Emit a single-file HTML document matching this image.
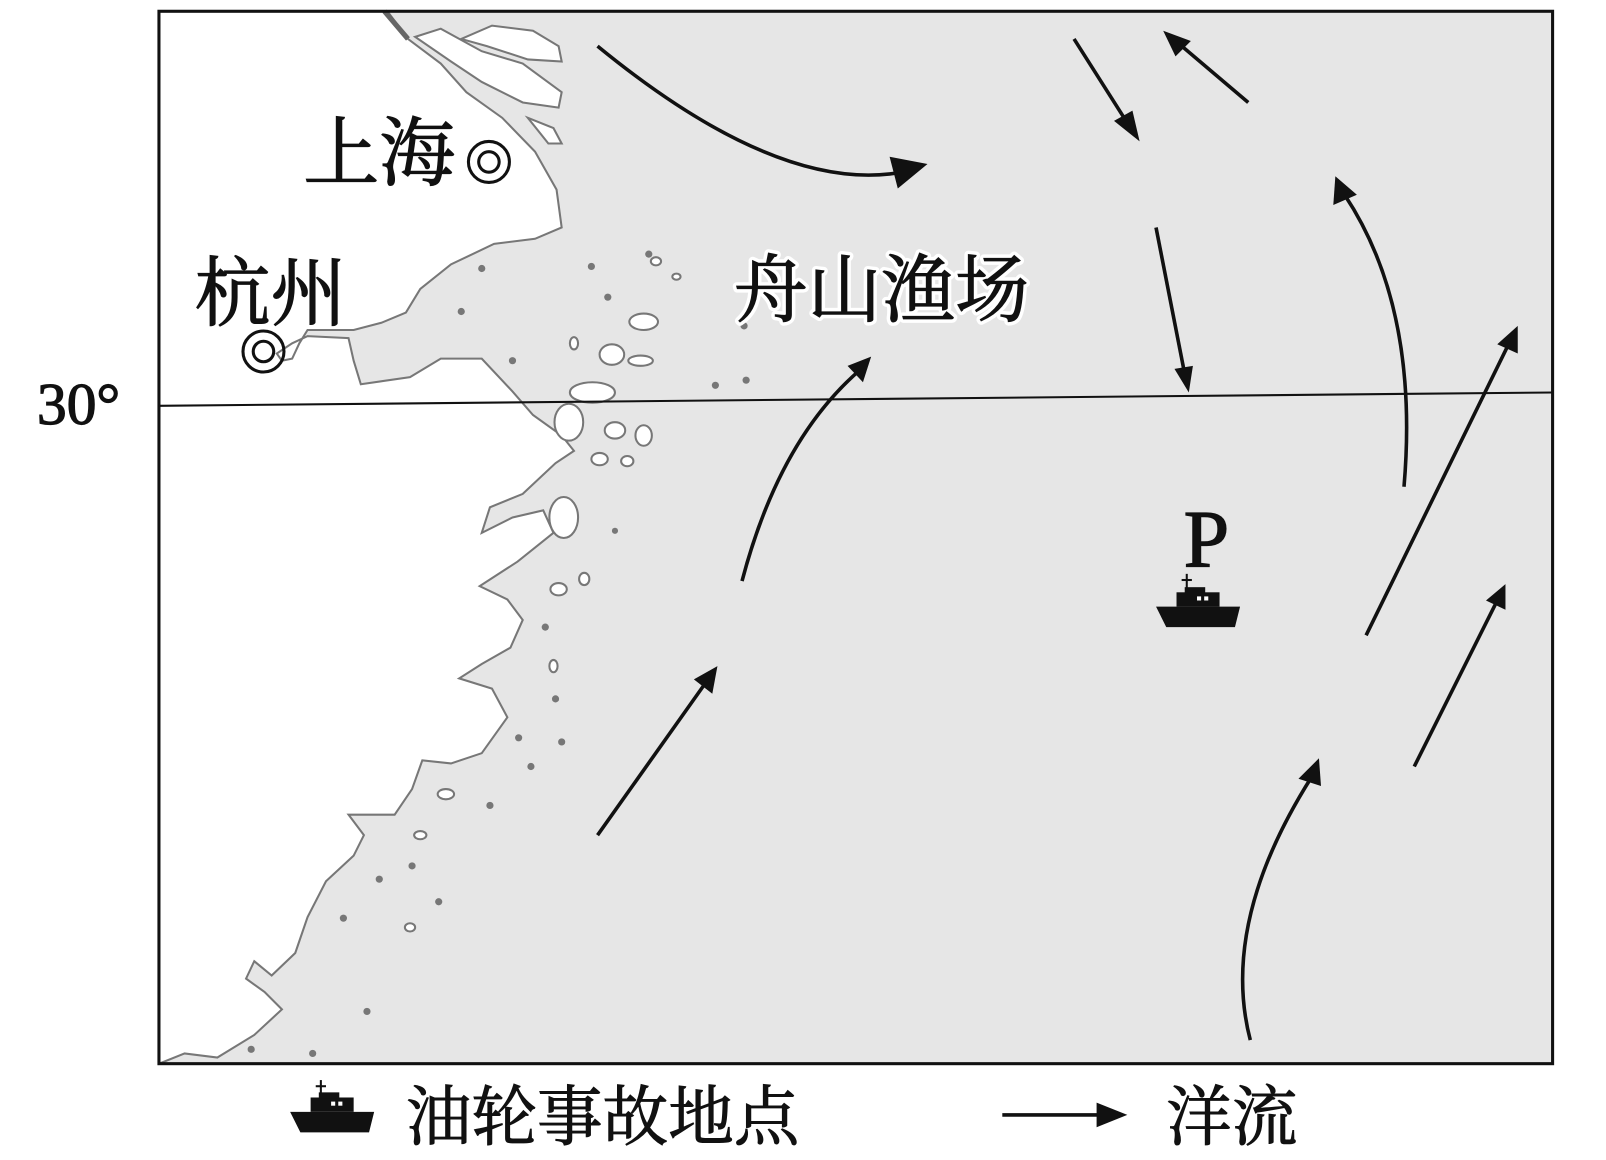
<!DOCTYPE html>
<html><head><meta charset="utf-8"><style>
html,body{margin:0;padding:0;background:#fff;}
svg{display:block;}
text{font-family:"Liberation Serif","Noto Serif CJK SC",serif;fill:#111;}
</style></head><body>
<svg width="1606" height="1160" viewBox="0 0 1567 1132" xmlns="http://www.w3.org/2000/svg">
<rect x="155" y="11" width="1360" height="1027" fill="#e6e6e6"/>
<path d="M155,11 L378,11 L398,38 L430,62 L455,90 L490,115 L522,148 L543,185 L548,222 L522,233 L482,238 L440,258 L410,282 L396,305 L372,315 L345,322 L300,322 L292,335 L285,350 L275,352 L270,345 L285,335 L300,328 L340,330 L345,352 L352,375 L400,368 L430,350 L470,350 L500,382 L520,405 L548,425 L560,440 L542,452 L510,482 L478,495 L470,520 L500,505 L530,498 L540,520 L505,548 L468,572 L495,585 L510,605 L498,632 L470,648 L448,662 L480,672 L495,700 L470,735 L440,745 L412,742 L402,770 L385,795 L340,795 L355,815 L345,835 L318,860 L300,895 L288,930 L265,952 L248,938 L240,955 L258,968 L275,985 L248,1010 L212,1032 L180,1028 L155,1038 Z" fill="#fff" stroke="#777" stroke-width="2"/>
<path d="M375,11 L398,38" stroke="#666" stroke-width="5" fill="none"/>
<path d="M405,36 L430,28 L470,50 L510,62 L548,90 L545,105 L510,100 L470,80 L440,60 Z" fill="#fff" stroke="#777" stroke-width="2"/>
<path d="M450,38 L480,25 L520,30 L545,45 L548,60 L515,58 L475,45 Z" fill="#fff" stroke="#777" stroke-width="2"/>
<path d="M515,115 L540,125 L548,140 L535,140 Z" fill="#fff" stroke="#777" stroke-width="2"/>
<g fill="#fff" stroke="#777" stroke-width="2">
<ellipse cx="628" cy="314" rx="14" ry="8"/>
<ellipse cx="597" cy="346" rx="12" ry="10"/>
<ellipse cx="625" cy="352" rx="12" ry="5"/>
<ellipse cx="578" cy="383" rx="22" ry="10"/>
<ellipse cx="555" cy="412" rx="14" ry="18"/>
<ellipse cx="600" cy="420" rx="10" ry="8"/>
<ellipse cx="628" cy="425" rx="8" ry="10"/>
<ellipse cx="585" cy="448" rx="8" ry="6"/>
<ellipse cx="612" cy="450" rx="6" ry="5"/>
<ellipse cx="550" cy="505" rx="14" ry="20"/>
<ellipse cx="545" cy="575" rx="8" ry="6"/>
<ellipse cx="570" cy="565" rx="5" ry="6"/>
<ellipse cx="540" cy="650" rx="4" ry="6"/>
<ellipse cx="435" cy="775" rx="8" ry="5"/>
<ellipse cx="410" cy="815" rx="6" ry="4"/>
<ellipse cx="400" cy="905" rx="5" ry="4"/>
<ellipse cx="560" cy="335" rx="4" ry="6"/>
<ellipse cx="660" cy="270" rx="4" ry="3"/>
<ellipse cx="640" cy="255" rx="5" ry="4"/>
</g>
<g fill="#777">
<circle cx="470" cy="262" r="3.5"/><circle cx="577" cy="260" r="3.5"/><circle cx="633" cy="248" r="3.5"/>
<circle cx="593" cy="290" r="3.5"/><circle cx="450" cy="304" r="3.5"/><circle cx="500" cy="352" r="3.5"/>
<circle cx="698" cy="376" r="3.5"/><circle cx="728" cy="371" r="3.5"/><circle cx="726" cy="318" r="3.5"/>
<circle cx="532" cy="612" r="3.5"/><circle cx="542" cy="682" r="3.5"/><circle cx="506" cy="720" r="3.5"/>
<circle cx="548" cy="724" r="3.5"/><circle cx="518" cy="748" r="3.5"/><circle cx="478" cy="786" r="3.5"/>
<circle cx="402" cy="845" r="3.5"/><circle cx="370" cy="858" r="3.5"/><circle cx="428" cy="880" r="3.5"/>
<circle cx="335" cy="896" r="3.5"/><circle cx="358" cy="987" r="3.5"/><circle cx="305" cy="1028" r="3.5"/>
<circle cx="245" cy="1024" r="3.5"/><circle cx="600" cy="518" r="3"/>
</g>
<rect x="155" y="11" width="1360" height="1027" fill="none" stroke="#111" stroke-width="3"/>
<line x1="155" y1="396" x2="1515" y2="383" stroke="#111" stroke-width="2"/>
<g stroke="#111" stroke-width="3.5" fill="none">
<path d="M583,45 Q760,190 880,168"/>
<path d="M1048,38 L1100,120"/>
<path d="M1218,100 L1152,44"/>
<path d="M1128,222 L1156,365"/>
<path d="M1370,475 Q1385,300 1312,190"/>
<path d="M1333,620 L1472,336"/>
<path d="M1380,748 L1460,588"/>
<path d="M1220,1015 Q1190,900 1280,758"/>
<path d="M583,815 L688,667"/>
<path d="M724,567 Q760,430 838,362"/>
</g>
<g fill="#111">
<polygon points="905,160 868,153 876,184"/>
<polygon points="1112,138 1087,118 1105,108"/>
<polygon points="1135,30 1147,55 1162,40"/>
<polygon points="1160,383 1146,360 1164,357"/>
<polygon points="1303,172 1301,200 1324,190"/>
<polygon points="1481,318 1461,336 1481,345"/>
<polygon points="1469,570 1450,586 1469,595"/>
<polygon points="1287,740 1267,760 1289,767"/>
<polygon points="700,650 677,663 695,677"/>
<polygon points="850,348 827,357 842,373"/>
</g>
<g fill="none" stroke="#111" stroke-width="3">
<circle cx="477" cy="158" r="20"/><circle cx="477" cy="158" r="10"/>
<circle cx="257" cy="343" r="20"/><circle cx="257" cy="343" r="10"/>
</g>
<g stroke="#111" stroke-width="1.2">
<text x="296" y="175" font-size="74">上海</text>
<text x="190" y="312" font-size="74">杭州</text>
</g>
<text x="716" y="308" font-size="72" stroke="#fff" stroke-width="8" paint-order="stroke" style="stroke-linejoin:round">舟山渔场</text>
<text x="716" y="308" font-size="72" stroke="#111" stroke-width="1.2">舟山渔场</text>
<text x="36" y="414" font-size="58" stroke="#111" stroke-width="1.2">30°</text>
<text x="1155" y="553" font-size="80" stroke="#111" stroke-width="1.2">P</text>
<g fill="#111">
<path d="M1128,592 L1210,592 L1205,612 L1138,612 Z"/>
<rect x="1148" y="578" width="42" height="14"/>
<rect x="1156" y="573" width="20" height="6"/>
<rect x="1157" y="560" width="2" height="14"/>
<rect x="1153" y="565" width="10" height="2"/>
</g>
<g fill="#fff"><rect x="1168" y="582" width="4" height="4"/><rect x="1175" y="582" width="4" height="4"/></g>
<g fill="#111">
<path d="M283,1085 L365,1085 L360,1105 L293,1105 Z"/>
<rect x="303" y="1071" width="42" height="14"/>
<rect x="311" y="1066" width="20" height="6"/>
<rect x="312" y="1054" width="2" height="14"/>
<rect x="308" y="1059" width="10" height="2"/>
</g>
<g fill="#fff"><rect x="323" y="1075" width="4" height="4"/><rect x="330" y="1075" width="4" height="4"/></g>
<text x="396" y="1112" font-size="64" stroke="#111" stroke-width="1">油轮事故地点</text>
<line x1="978" y1="1088" x2="1075" y2="1088" stroke="#111" stroke-width="3.5"/>
<polygon points="1100,1088 1070,1076 1070,1100" fill="#111"/>
<text x="1138" y="1112" font-size="64" stroke="#111" stroke-width="1">洋流</text>
</svg>
</body></html>
